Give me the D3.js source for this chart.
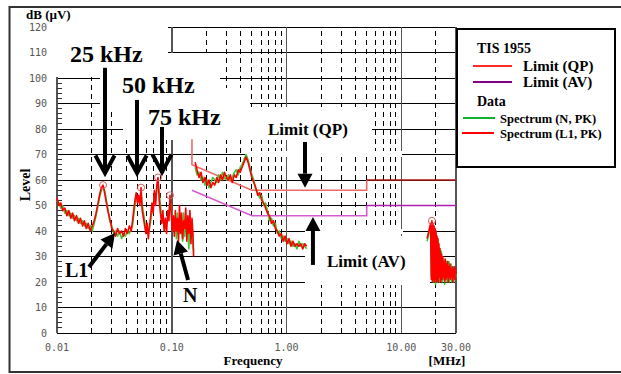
<!DOCTYPE html>
<html>
<head>
<meta charset="utf-8">
<script src="https://cdn.jsdelivr.net/npm/d3@7"></script>
<style>
  html, body { margin: 0; padding: 0; background: #fff; }
  svg { display: block; }
  .serif { font-family: "Liberation Serif", "Times New Roman", serif; font-weight: bold; fill: #000; }
  .mono { font-family: "DejaVu Sans Mono", monospace; font-size: 10px; fill: #555; }
</style>
</head>
<body>
<div id="chart"></div>
<script>
// ---- data (MHz / dB(uV)) ----
const lowFreq = [0.0100, 0.0104, 0.0108, 0.0112, 0.0117, 0.0122, 0.0127, 0.0132, 0.0137, 0.0142,
  0.0148, 0.0154, 0.0160, 0.0167, 0.0173, 0.0180, 0.0187, 0.0195, 0.0203, 0.0211,
  0.0219, 0.0228, 0.0237, 0.0244, 0.0252, 0.0260, 0.0267, 0.0277, 0.0288, 0.0300,
  0.0312, 0.0324, 0.0337, 0.0351, 0.0365, 0.0380, 0.0395, 0.0410, 0.0427, 0.0444,
  0.0455, 0.0466, 0.0478, 0.0490, 0.0502, 0.0514, 0.0527, 0.0540, 0.0553, 0.0567,
  0.0581, 0.0595, 0.0610, 0.0625, 0.0640, 0.0656, 0.0672, 0.0689, 0.0706, 0.0723,
  0.0741, 0.0759, 0.0778, 0.0797, 0.0817, 0.0837, 0.0858, 0.0879, 0.0901, 0.0923,
  0.0945, 0.0966, 0.0990, 0.1010, 0.1031, 0.1053, 0.1075, 0.1098, 0.1121, 0.1145,
  0.1169, 0.1194, 0.1219, 0.1245, 0.1271, 0.1298, 0.1325, 0.1353, 0.1381, 0.1410,
  0.1440, 0.1470, 0.1501, 0.1533, 0.1550];
const lowL1 = [53, 50, 51, 48, 49, 46, 48, 45, 47, 44,
  46, 43, 45, 42, 44, 41, 43, 40, 42, 44,
  47, 51, 55, 57, 58, 55, 52, 48, 45, 41,
  40, 38, 41, 39, 40, 38, 41, 39, 42, 40,
  44, 48, 52, 55, 51, 54, 50, 57, 48, 45,
  42, 39, 43, 37, 42, 46, 51, 47, 56, 50,
  58, 61, 52, 47, 43, 48, 40, 45, 39, 48,
  44, 54, 47, 40, 46, 38, 48, 40, 45, 36,
  50, 39, 47, 37, 44, 41, 49, 36, 46, 39,
  48, 35, 45, 38, 30];
const lowN = [52, 51, 49, 50, 47, 48, 46, 47, 45, 46,
  44, 45, 43, 44, 42, 43, 41, 42, 40, 43,
  46, 50, 54, 56, 57, 56, 53, 49, 44, 42,
  39, 40, 38, 40, 37, 39, 38, 40, 39, 41,
  42, 46, 50, 54, 53, 52, 51, 55, 50, 47,
  44, 41, 40, 39, 41, 44, 49, 50, 54, 52,
  56, 59, 55, 50, 45, 44, 42, 41, 43, 45,
  47, 52, 49, 43, 41, 40, 44, 37, 47, 39,
  45, 43, 40, 36, 47, 38, 44, 40, 42, 33,
  45, 37, 43, 34, 32];

const midFreq = [0.160, 0.166, 0.173, 0.180, 0.187, 0.195, 0.203, 0.211, 0.219, 0.228,
  0.237, 0.247, 0.256, 0.267, 0.277, 0.288, 0.300, 0.312, 0.324, 0.337,
  0.351, 0.365, 0.380, 0.395, 0.410, 0.427, 0.444, 0.462, 0.480, 0.499,
  0.519, 0.540, 0.562, 0.584, 0.608, 0.632, 0.657, 0.683, 0.711, 0.739,
  0.769, 0.800, 0.832, 0.865, 0.900, 0.936, 0.973, 1.012, 1.053, 1.095,
  1.139, 1.184, 1.232, 1.281, 1.332, 1.386, 1.441, 1.499];
const midL1 = [67, 64, 61, 63, 59, 61, 58, 60, 57, 59,
  58, 61, 59, 62, 60, 63, 61, 60, 62, 59,
  62, 61, 64, 63, 65, 67, 69, 67, 64, 61,
  59, 57, 54, 55, 52, 51, 49, 47, 46, 43,
  44, 41, 40, 38, 39, 36, 38, 35, 37, 34,
  36, 34, 35, 34, 35, 33, 35, 34];
const midN = [65, 62, 63, 60, 61, 58, 60, 57, 59, 61,
  60, 59, 62, 60, 63, 61, 60, 62, 60, 61,
  63, 64, 62, 65, 66, 68, 70, 68, 65, 62,
  60, 56, 55, 53, 54, 50, 51, 48, 44, 45,
  42, 43, 39, 40, 37, 38, 36, 37, 35, 36,
  34, 35, 33, 36, 34, 35, 34, 33];

const highFreq = [16.8, 17.2, 17.6, 18.0, 18.3, 18.5, 18.7, 18.9, 19.1, 19.3,
  19.5, 19.7, 19.9, 20.1, 20.3, 20.5, 20.7, 20.9, 21.1, 21.3,
  21.5, 21.8, 22.1, 22.4, 22.7, 23.0, 23.3, 23.6, 23.9, 24.2,
  24.5, 24.8, 25.1, 25.4, 25.7, 26.0, 26.3, 26.6, 26.9, 27.2,
  27.5, 27.8, 28.1, 28.4, 28.7, 29.0, 29.3, 29.6, 30.0];
const highL1 = [37, 39, 41, 43, 21, 44, 20, 43, 21, 42,
  20, 41, 21, 40, 20, 38, 21, 37, 20, 35,
  22, 33, 20, 31, 21, 30, 22, 28, 20, 29,
  21, 27, 22, 28, 20, 26, 22, 27, 21, 25,
  22, 26, 20, 25, 22, 26, 21, 25, 23];
const highN = [36, 38, 40, 42, 22, 43, 21, 42, 20, 41,
  21, 40, 19, 39, 21, 37, 20, 36, 21, 34,
  20, 32, 21, 32, 20, 29, 21, 29, 19, 28,
  22, 28, 20, 27, 21, 28, 20, 26, 22, 27,
  20, 25, 21, 26, 20, 25, 22, 24, 22];

const qpFreq = [0.15, 0.15, 0.5, 5, 5, 30];
const qpLevel = [76, 66, 56, 56, 60, 60];
const avFreq = [0.15, 0.5, 5, 5, 30];
const avLevel = [56, 46, 46, 50, 50];

const peakFreq = [0.0252, 0.0540, 0.0759, 0.0966, 18.5];
const peakLevel = [58, 57, 61, 54, 44];

const levelTicks = [0, 10, 20, 30, 40, 50, 60, 70, 80, 90, 100, 110, 120];
const freqMajor = [0.01, 0.1, 1, 10, 30];
const freqMinor = [0.02, 0.03, 0.04, 0.05, 0.06, 0.07, 0.08, 0.09,
  0.2, 0.3, 0.4, 0.5, 0.6, 0.7, 0.8, 0.9, 2, 3, 4, 5, 6, 7, 8, 9, 20];
const freqLabels = ["0.01", "0.10", "1.00", "10.00", "30.00"];

// ---- layout ----
const W = 621, H = 374;
const x = d3.scaleLog().domain([0.01, 30]).range([57, 456]);
const y = d3.scaleLinear().domain([0, 120]).range([333, 27]);

const svg = d3.select('#chart').append('svg')
  .attr('width', W).attr('height', H)
  .style('background', '#fff');

// outer frame
svg.append('path')
  .attr('d', `M${W + 5},7 H9.5 V372 H${W + 5}`)
  .attr('fill', 'none').attr('stroke', '#333').attr('stroke-width', 2);

const grid = svg.append('g').attr('shape-rendering', 'crispEdges');

grid.selectAll('line.h').data(levelTicks).enter().append('line')
  .attr('x1', x(0.01)).attr('x2', x(30))
  .attr('y1', d => y(d)).attr('y2', d => y(d))
  .attr('stroke', '#000').attr('stroke-width', 1);

grid.selectAll('line.minor').data(freqMinor).enter().append('line')
  .attr('x1', d => x(d)).attr('x2', d => x(d))
  .attr('y1', y(0)).attr('y2', y(120))
  .attr('stroke', '#000').attr('stroke-width', 1)
  .attr('stroke-dasharray', '5,4');

grid.selectAll('line.major').data(freqMajor).enter().append('line')
  .attr('x1', d => x(d)).attr('x2', d => x(d))
  .attr('y1', y(0)).attr('y2', y(120))
  .attr('stroke', '#555').attr('stroke-width', 1.5);

// little ticks on the level axis
grid.selectAll('line.ytick').data(d3.range(2, 100, 2).filter(v => v % 10)).enter().append('line')
  .attr('x1', x(0.01)).attr('x2', x(0.01) + 5)
  .attr('y1', d => y(d)).attr('y2', d => y(d))
  .attr('stroke', '#333').attr('stroke-width', 1);

// white patches left by the pasted labels
const masks = [
  [50, 15, 118, 62],
  [100, 53, 120, 57],
  [123, 88, 127, 52],
  [245, 107, 127, 33],
  [300, 140, 72, 17],
  [245, 151, 157, 6],
  [305, 236, 125, 49],
  [305, 229, 98, 5]
];
svg.selectAll('rect.mask').data(masks).enter().append('rect')
  .attr('x', d => d[0]).attr('y', d => d[1])
  .attr('width', d => d[2]).attr('height', d => d[3])
  .attr('fill', '#fff');

// ---- limits ----
const line = d3.line().x(d => x(d[0])).y(d => y(d[1]));
const qp = d3.zip(qpFreq, qpLevel);
const av = d3.zip(avFreq, avLevel);
svg.append('path').attr('d', line(qp.slice(0, 5))).attr('fill', 'none')
  .attr('stroke', '#f06868').attr('stroke-width', 1.6);
svg.append('path').attr('d', line(qp.slice(4))).attr('fill', 'none')
  .attr('stroke', '#b01818').attr('stroke-width', 1.6);
svg.append('path').attr('d', line(av.slice(0, 4))).attr('fill', 'none')
  .attr('stroke', '#d45ad4').attr('stroke-width', 1.6);
svg.append('path').attr('d', line(av.slice(3))).attr('fill', 'none')
  .attr('stroke', '#b020b0').attr('stroke-width', 1.6);

// ---- spectra ----
const spectra = [
  [lowFreq, lowN, '#33cc33', 1.6], [midFreq, midN, '#33cc33', 1.6], [highFreq, highN, '#33cc33', 1.6],
  [lowFreq, lowL1, '#ff0000', 1.6], [midFreq, midL1, '#ff0000', 1.6], [highFreq, highL1, '#ff0000', 1.6]
];
spectra.forEach(([f, l, c, w]) => {
  svg.append('path').attr('d', line(d3.zip(f, l)))
    .attr('fill', 'none').attr('stroke', c).attr('stroke-width', w)
    .attr('stroke-linejoin', 'round');
});

svg.selectAll('circle.peak').data(d3.zip(peakFreq, peakLevel)).enter().append('circle')
  .attr('cx', d => x(d[0])).attr('cy', d => y(d[1])).attr('r', 3.5)
  .attr('fill', 'none').attr('stroke', '#e05858').attr('stroke-width', 1);

// ---- tick labels & titles ----
svg.selectAll('text.yl').data(levelTicks).enter().append('text')
  .attr('class', 'mono').attr('x', 47).attr('y', d => y(d)).attr('dy', '0.35em')
  .attr('text-anchor', 'end').text(d => d);

svg.selectAll('text.xl').data(freqMajor).enter().append('text')
  .attr('class', 'mono').attr('x', d => x(d)).attr('y', 351)
  .attr('text-anchor', 'middle').text((d, i) => freqLabels[i]);

svg.append('text').attr('class', 'serif').attr('x', 26).attr('y', 19)
  .style('font-size', '13px').text('dB (µV)');
svg.append('text').attr('class', 'serif').attr('x', 253).attr('y', 365)
  .attr('text-anchor', 'middle').style('font-size', '13px').text('Frequency');
svg.append('text').attr('class', 'serif').attr('x', 447).attr('y', 365)
  .attr('text-anchor', 'middle').style('font-size', '13px').text('[MHz]');
svg.append('text').attr('class', 'serif')
  .attr('transform', 'translate(30,185) rotate(-90)')
  .attr('text-anchor', 'middle').style('font-size', '14px').text('Level');

// ---- annotations ----
const notes = [
  ['25 kHz', 70, 62, 24], ['50 kHz', 122, 93, 24], ['75 kHz', 148, 125, 24],
  ['Limit (QP)', 268, 135, 17], ['Limit (AV)', 327, 267, 17],
  ['L1', 65, 277, 20], ['N', 183, 302, 20]
];
svg.selectAll('text.note').data(notes).enter().append('text')
  .attr('class', 'serif').attr('x', d => d[1]).attr('y', d => d[2])
  .style('font-size', d => d[3] + 'px').text(d => d[0]);

// arrows: [fromFreq, fromLevel, toFreq, toLevel, head]
const arrows = [
  [0.0262, 104, 0.0262, 62.7, 'v'],
  [0.0498, 91.4, 0.0498, 62.7, 'v'],
  [0.0822, 80.8, 0.0822, 63.1, 'v'],
  [1.45, 74.9, 1.45, 57, 'fill'],
  [1.70, 26.7, 1.70, 45.5, 'fill'],
  [0.019, 25.9, 0.032, 39.2, 'fill'],
  [0.1387, 20.8, 0.1112, 36.5, 'fill']
];
arrows.forEach(([f1, l1, f2, l2, head]) => {
  const x1 = x(f1), y1 = y(l1), x2 = x(f2), y2 = y(l2);
  const a = Math.atan2(y2 - y1, x2 - x1);
  const g = svg.append('g');
  if (head === 'v') {
    g.append('line').attr('x1', x1).attr('y1', y1).attr('x2', x2).attr('y2', y2 - 3)
      .attr('stroke', '#000').attr('stroke-width', 4);
    const L = 20, s = 0.5;
    const p1 = [x2 - L * Math.cos(a - s), y2 - L * Math.sin(a - s)];
    const p2 = [x2 - L * Math.cos(a + s), y2 - L * Math.sin(a + s)];
    g.append('path').attr('d', `M${p1}L${x2},${y2}L${p2}`)
      .attr('fill', 'none').attr('stroke', '#000').attr('stroke-width', 4)
      .attr('stroke-linejoin', 'miter');
  } else {
    const L = 14, hw = 7.5;
    const bx = x2 - L * Math.cos(a), by = y2 - L * Math.sin(a);
    g.append('line').attr('x1', x1).attr('y1', y1).attr('x2', bx).attr('y2', by)
      .attr('stroke', '#000').attr('stroke-width', 4);
    const px = -Math.sin(a) * hw, py = Math.cos(a) * hw;
    g.append('path')
      .attr('d', `M${x2},${y2}L${bx + px},${by + py}L${bx - px},${by - py}Z`)
      .attr('fill', '#000');
  }
});

// ---- legend ----
const lg = svg.append('g');
lg.append('rect').attr('x', 457).attr('y', 29).attr('width', 158).attr('height', 138)
  .attr('fill', '#fff').attr('stroke', '#000').attr('stroke-width', 2);
lg.append('text').attr('class', 'serif').attr('x', 477).attr('y', 53)
  .style('font-size', '14px').text('TIS 1955');
lg.append('text').attr('class', 'serif').attr('x', 477).attr('y', 106)
  .style('font-size', '14px').text('Data');
const legendItems = [
  ['Limit (QP)', '#ff2a2a', 473, 512, 66, 523, 15],
  ['Limit (AV)', '#800080', 473, 512, 82, 523, 15],
  ['Spectrum (N, PK)', '#10b030', 463, 495, 118, 500, 12.5],
  ['Spectrum (L1, PK)', '#ff0000', 462, 494, 133, 500, 12.5]
];
legendItems.forEach(([t, c, xa, xb, yy, tx, fs]) => {
  lg.append('line').attr('x1', xa).attr('x2', xb).attr('y1', yy).attr('y2', yy)
    .attr('stroke', c).attr('stroke-width', 2);
  lg.append('text').attr('class', 'serif').attr('x', tx).attr('y', yy + 5)
    .style('font-size', fs + 'px').text(t);
});
</script>
</body>
</html>
